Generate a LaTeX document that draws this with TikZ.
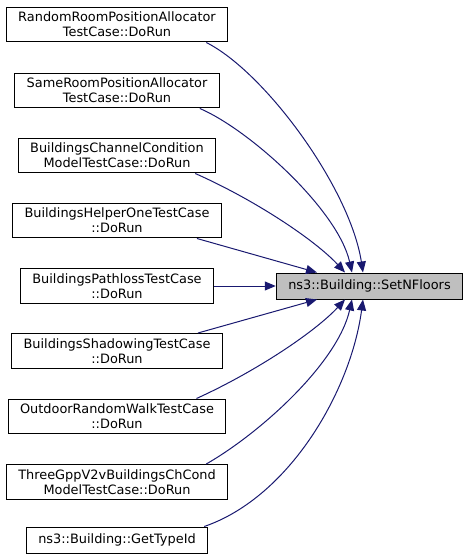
\documentclass[tikz,border=0pt]{standalone}
\usepackage{fontspec}
\setmainfont{DejaVu Sans}
\usetikzlibrary{arrows.meta}
\definecolor{edgeblue}{HTML}{191970}
\definecolor{targetgray}{HTML}{BFBFBF}
\begin{document}
\begin{tikzpicture}[x=1pt,y=-1pt,
  box/.style={draw=black,line width=1pt,fill=white,font=\fontsize{12.9}{15}\selectfont,
    align=center,inner xsep=12pt,inner ysep=5pt,minimum height=26pt},
  tgt/.style={box,fill=targetgray},
  edge/.style={draw=edgeblue,line width=1pt,-{Triangle[length=11pt,width=9pt,fill=edgeblue]}}]
\useasboundingbox (0,0) rectangle (467,560);
\node[box] (n1) at (117,24.5) {RandomRoomPositionAllocator\\TestCase::DoRun};
\node[box] (n2) at (117,90.5) {SameRoomPositionAllocator\\TestCase::DoRun};
\node[box] (n3) at (117,155.5) {BuildingsChannelCondition\\ModelTestCase::DoRun};
\node[box] (n4) at (117,220.5) {BuildingsHelperOneTestCase\\::DoRun};
\node[box] (n5) at (117,286) {BuildingsPathlossTestCase\\::DoRun};
\node[box] (n6) at (117,351) {BuildingsShadowingTestCase\\::DoRun};
\node[box] (n7) at (117,416.5) {OutdoorRandomWalkTestCase\\::DoRun};
\node[box] (n8) at (117,482) {ThreeGppV2vBuildingsChCond\\ModelTestCase::DoRun};
\node[box] (n9) at (117,540) {ns3::Building::GetTypeId};
\node[tgt] (t) at (369.5,286) {ns3::Building::SetNFloors};

\path[edge] ([xshift=-22pt]n1.south east) .. controls (265,72) and (350,188) .. ([xshift=-6.5pt]t.north);
\path[edge] ([xshift=-20pt]n2.south east) .. controls (250,130) and (338,210) .. ([xshift=-17.5pt]t.north);
\path[edge] ([xshift=-21pt]n3.south east) .. controls (255,200) and (315,240) .. ([xshift=-24.5pt]t.north);
\path[edge] ([xshift=-25pt]n4.south east) -- ([xshift=-52.5pt]t.north);
\path[edge] (n5.east) -- (t.west);
\path[edge] ([xshift=-25pt]n6.north east) -- ([xshift=-52.5pt]t.south);
\path[edge] ([xshift=-30pt]n7.north east) .. controls (255,372) and (315,332) .. ([xshift=-24.5pt]t.south);
\path[edge] ([xshift=-22pt]n8.north east) .. controls (262,432) and (338,362) .. ([xshift=-17.5pt]t.south);
\path[edge] ([xshift=-4pt]n9.north east) .. controls (290,497) and (351,390) .. ([xshift=-6.5pt]t.south);
\end{tikzpicture}
\end{document}
